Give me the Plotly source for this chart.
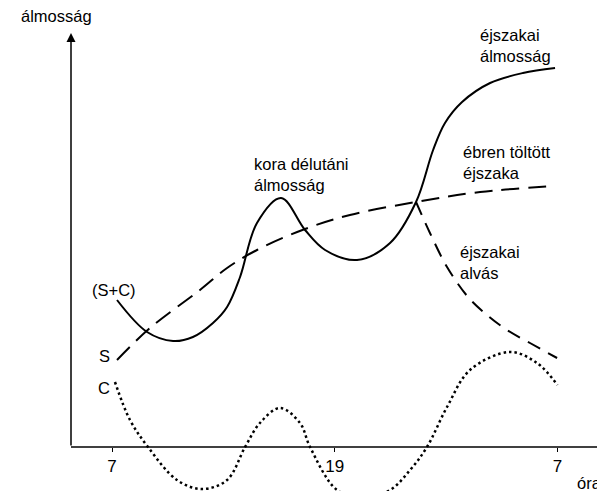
import plotly.graph_objects as go

# ---- data (x: hour of day, continuing past midnight; y: arbitrary sleepiness units)
sc_hours = [7.27, 8.89, 10.29, 11.36, 12.44, 13.20, 13.90, 14.81, 16.11, 17.40, 18.48, 20.20, 21.98,
            23.38, 24.30, 24.94, 25.86, 27.37, 29.14, 30.87]
sc_vals = [36.75, 28.75, 26.5, 27.5, 31, 35, 42.5, 56, 62.25, 54.25, 49.25, 46.75, 51,
           61.25, 74.25, 81, 86.25, 91, 93.5, 94.75]

s_hours = [7.27, 9.05, 11.74, 13.20, 14.81, 17.40, 19.82, 23.38, 26.83, 30.87]
s_vals = [21.75, 29.75, 39.25, 44.75, 49.25, 54.5, 58, 61.25, 63.75, 65.25]

sleep_hours = [23.38, 24.13, 25.05, 26.18, 27.20, 28.28, 29.52, 30.98]
sleep_vals = [61.25, 53.5, 45, 37.5, 33, 29.25, 26, 22.25]

c_hours = [7.16, 7.97, 8.94, 10.50, 11.85, 13.20, 14.17, 14.97, 16.05, 17.13, 17.67, 19.12,
           20.47, 21.98, 23.06, 23.97, 25.05, 26.29, 28.44, 29.90, 31.0]
c_vals = [16.25, 6.75, 0, -8.25, -10.5, -8.25, 0, 6, 9.75, 6, 0, -10.75,
          -12.5, -10.75, -5.75, 0, 10, 19.25, 23.75, 21, 15.5]

tick_vals = [7, 19, 31]
tick_text = ["7", "19", "7"]

# ---- layout geometry (pixels of the 597x491 page)
W, H = 597, 491
X0, X1 = 0.966, 33.13      # full page width in hours
AXIS_X = 4.791             # hour where the vertical axis stands
Y0, Y1 = -11, 111.75
AXIS_PX = 447
PX_PER_HOUR = (W) / (X1 - X0)
PX_PER_UNIT = H / (Y1 - Y0)


def hx(px):
    return X0 + px / PX_PER_HOUR


def vy(py):
    return Y1 - py / PX_PER_UNIT


FONT = "Arial, Liberation Sans, sans-serif"

fig = go.Figure()
fig.add_trace(go.Scatter(x=sc_hours, y=sc_vals, mode="lines",
                         line=dict(color="black", width=2, shape="spline", smoothing=1.0),
                         hoverinfo="skip", showlegend=False))
fig.add_trace(go.Scatter(x=s_hours, y=s_vals, mode="lines",
                         line=dict(color="black", width=2, shape="spline", dash="18px,9px"),
                         hoverinfo="skip", showlegend=False))
fig.add_trace(go.Scatter(x=sleep_hours, y=sleep_vals, mode="lines",
                         line=dict(color="black", width=2, shape="spline", dash="14px,9px"),
                         hoverinfo="skip", showlegend=False))
fig.add_trace(go.Scatter(x=c_hours, y=c_vals, mode="lines",
                         line=dict(color="black", width=2.5, shape="spline", dash="2.5px,3px"),
                         hoverinfo="skip", showlegend=False))

annotations = []


def label(text, x, y, xanchor="left", size=16.5):
    annotations.append(dict(text=text, x=hx(x), y=vy(y), xref="x", yref="y",
                            showarrow=False, xanchor=xanchor, yanchor="middle",
                            align=xanchor if xanchor != "center" else "center",
                            font=dict(family=FONT, size=size, color="black")))


label("álmosság", 56, 16, xanchor="center")
label("(S+C)", 114, 290, xanchor="center")
label("S", 104, 356, xanchor="center")
label("C", 104, 388, xanchor="center")
label("kora délutáni<br>álmosság", 252, 174)
label("éjszakai<br>álmosság", 478, 45)
label("ébren töltött<br>éjszaka", 461, 162)
label("éjszakai<br>alvás", 458, 262)
label("óra", 575, 483)

# y axis drawn as an arrow
annotations.append(dict(x=AXIS_X, y=103.5, xref="x", yref="y", showarrow=True,
                        ax=0, ay=AXIS_PX - 33, axref="pixel", ayref="pixel",
                        arrowhead=2, arrowsize=1.2, arrowwidth=1.5, arrowcolor="black", text=""))

fig.update_layout(
    width=W, height=H,
    margin=dict(l=0, r=0, t=0, b=0, pad=0),
    paper_bgcolor="white", plot_bgcolor="white",
    annotations=annotations,
    shapes=[dict(type="line", xref="x", yref="y", x0=AXIS_X, x1=X1, y0=0, y1=0,
                 line=dict(color="black", width=1.5))],
    xaxis=dict(range=[X0, X1], anchor="free", position=(H - AXIS_PX) / H, showgrid=False, zeroline=False,
               showline=False, tickmode="array", tickvals=tick_vals, ticktext=tick_text,
               ticks="outside", ticklen=4, tickcolor="black", tickwidth=1,
               tickfont=dict(family=FONT, size=17, color="black")),
    yaxis=dict(range=[Y0, Y1], showgrid=False, zeroline=False,
               showticklabels=False, ticks="", showline=False),
)

fig.write_html("out.html", config={"displayModeBar": False},
               post_script="document.body.style.margin='0px';document.body.style.overflow='hidden';")
